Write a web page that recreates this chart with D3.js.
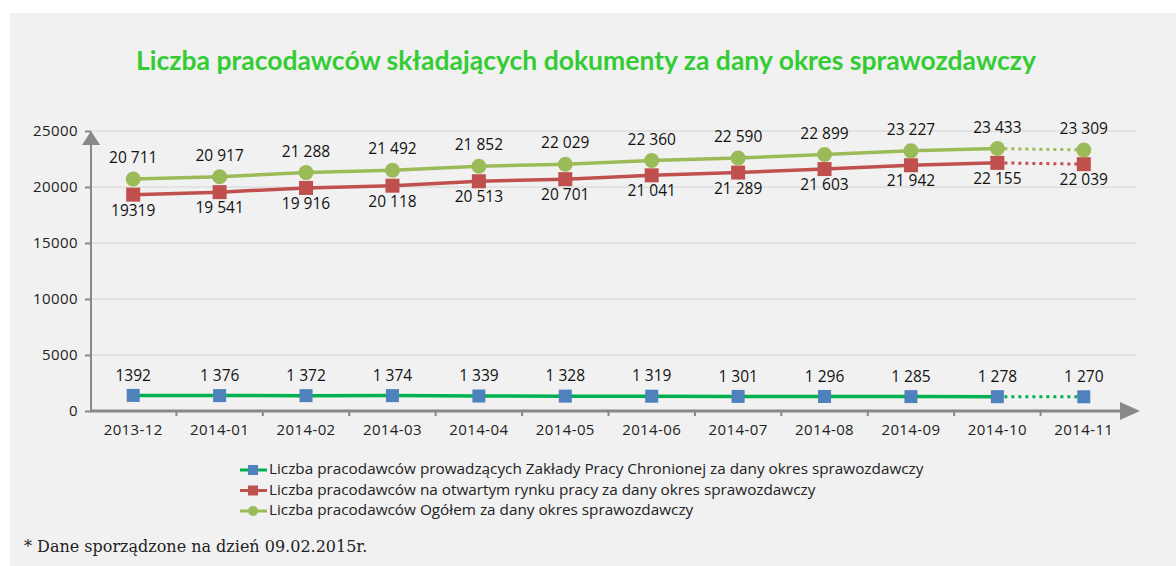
<!DOCTYPE html>
<html>
<head>
<meta charset="utf-8">
<script src="https://cdn.jsdelivr.net/npm/d3@7"></script>
<style>
  body { margin: 0; background: #fff; }
  svg { display: block; }
</style>
</head>
<body>
<svg id="chart" width="1176" height="566"></svg>
<script>
const months = ["2013-12", "2014-01", "2014-02", "2014-03", "2014-04", "2014-05",
  "2014-06", "2014-07", "2014-08", "2014-09", "2014-10", "2014-11"];
const zpchr = [1392, 1376, 1372, 1374, 1339, 1328, 1319, 1301, 1296, 1285, 1278, 1270];
const otwarty = [19319, 19541, 19916, 20118, 20513, 20701, 21041, 21289, 21603, 21942, 22155, 22039];
const ogolem = [20711, 20917, 21288, 21492, 21852, 22029, 22360, 22590, 22899, 23227, 23433, 23309];
const yTicks = [0, 5000, 10000, 15000, 20000, 25000];
const legendNames = [
  "Liczba pracodawców prowadzących Zakłady Pracy Chronionej za dany okres sprawozdawczy",
  "Liczba pracodawców na otwartym rynku pracy za dany okres sprawozdawczy",
  "Liczba pracodawców Ogółem za dany okres sprawozdawczy"
];

const svg = d3.select("#chart");
const font = "'Open Sans', sans-serif";

// background panel
svg.append("rect").attr("x", 10).attr("y", 13).attr("width", 1166).attr("height", 553)
  .attr("fill", "#f1f1f1");

svg.append("text")
  .attr("x", 586).attr("y", 70)
  .attr("text-anchor", "middle")
  .style("font-family", "Lato, sans-serif").style("font-size", "26.5px").style("font-weight", "bold")
  .style("fill", "#33cc33")
  .text("Liczba pracodawców składających dokumenty za dany okres sprawozdawczy");

const x = d3.scaleBand().domain(months).range([90, 1127]);
const y = d3.scaleLinear().domain([0, 25000]).range([411, 131]);

// gridlines
svg.append("g").selectAll("line").data(yTicks.slice(1)).enter().append("line")
  .attr("x1", 90).attr("x2", 1137)
  .attr("y1", d => y(d)).attr("y2", d => y(d))
  .attr("stroke", "#d4d4d4").attr("stroke-width", 1);

// y axis
const yAxis = svg.append("g").attr("transform", "translate(91,0)")
  .call(d3.axisLeft(y).tickValues(yTicks).tickSize(6).tickPadding(7).tickFormat(d3.format("d")));
yAxis.select(".domain").remove();
yAxis.selectAll("line").attr("stroke", "#888").attr("stroke-width", 2);
yAxis.selectAll("text").style("font-family", font).style("font-size", "15px")
  .style("letter-spacing", "0.4px").style("fill", "#222");
svg.append("line").attr("x1", 91).attr("x2", 91).attr("y1", 412).attr("y2", 140)
  .attr("stroke", "#888").attr("stroke-width", 2);
svg.append("path").attr("d", "M82,145 L91,131 L100,145 Z").attr("fill", "#888");

// x axis
const xAxis = svg.append("g").attr("transform", "translate(0,411)")
  .call(d3.axisBottom(x).tickSize(0).tickPadding(13));
xAxis.select(".domain").remove();
xAxis.selectAll("text").style("font-family", font).style("font-size", "15px")
  .style("letter-spacing", "0.4px").style("fill", "#222");
svg.append("g").selectAll("line").data(months).enter().append("line")
  .attr("x1", d => x(d) + x.bandwidth()).attr("x2", d => x(d) + x.bandwidth())
  .attr("y1", 411).attr("y2", 416).attr("stroke", "#888").attr("stroke-width", 2);
svg.append("line").attr("x1", 90).attr("x2", 1128).attr("y1", 411).attr("y2", 411)
  .attr("stroke", "#888").attr("stroke-width", 3);
svg.append("path").attr("d", "M1120,402 L1140,411 L1120,420 Z").attr("fill", "#888");

const cx = d => x(d) + x.bandwidth() / 2;
const spaced = v => d3.format(",")(v).replace(",", " ");

// first labels of two series are printed without the thousands space in the original
const series = [
  { values: zpchr, line: "#00b050", marker: "#4f81bd", shape: "square", size: 13, dy: -19, plainFirst: true },
  { values: otwarty, line: "#c0504d", marker: "#c0504d", shape: "square", size: 14, dy: 17, plainFirst: true },
  { values: ogolem, line: "#9bbb59", marker: "#9bbb59", shape: "circle", size: 14, dy: -20, plainFirst: false }
];

series.forEach(s => {
  const pts = s.values.map((v, i) => [cx(months[i]), y(v)]);
  const line = d3.line();
  svg.append("path").attr("d", line(pts.slice(0, 11)))
    .attr("fill", "none").attr("stroke", s.line).attr("stroke-width", 3.5);
  svg.append("path").attr("d", line(pts.slice(10)))
    .attr("fill", "none").attr("stroke", s.line).attr("stroke-width", 3)
    .attr("stroke-dasharray", "3,4");
  const g = svg.append("g");
  if (s.shape === "square") {
    g.selectAll("rect").data(pts).enter().append("rect")
      .attr("x", d => d[0] - s.size / 2).attr("y", d => d[1] - s.size / 2)
      .attr("width", s.size).attr("height", s.size).attr("fill", s.marker);
  } else {
    g.selectAll("circle").data(pts).enter().append("circle")
      .attr("cx", d => d[0]).attr("cy", d => d[1]).attr("r", s.size / 2 + 0.5)
      .attr("fill", s.marker);
  }
  svg.append("g").selectAll("text").data(s.values).enter().append("text")
    .attr("x", (d, i) => cx(months[i]))
    .attr("y", (d, i) => y(d) + s.dy)
    .attr("text-anchor", "middle").attr("dominant-baseline", "middle")
    .style("font-family", font).style("font-size", "15.5px").style("fill", "#111")
    .text((d, i) => (i === 0 && s.plainFirst) ? String(d) : spaced(d));
});

// legend
const lg = svg.append("g");
series.forEach((s, i) => {
  const ly = 470 + i * 20.5;
  lg.append("line").attr("x1", 240).attr("x2", 267).attr("y1", ly).attr("y2", ly)
    .attr("stroke", s.line).attr("stroke-width", 3);
  if (s.shape === "square") {
    lg.append("rect").attr("x", 248).attr("y", ly - 5).attr("width", 10).attr("height", 10)
      .attr("fill", s.marker);
  } else {
    lg.append("circle").attr("cx", 253).attr("cy", ly).attr("r", 5).attr("fill", s.marker);
  }
  lg.append("text").attr("x", 269).attr("y", ly).attr("dominant-baseline", "middle")
    .style("font-family", font).style("font-size", "15.3px").style("fill", "#222")
    .text(legendNames[i]);
});

svg.append("text").attr("x", 24).attr("y", 552)
  .style("font-family", "'DejaVu Serif', serif").style("font-size", "16px")
  .style("fill", "#222")
  .text("* Dane sporządzone na dzień 09.02.2015r.");
</script>
</body>
</html>
